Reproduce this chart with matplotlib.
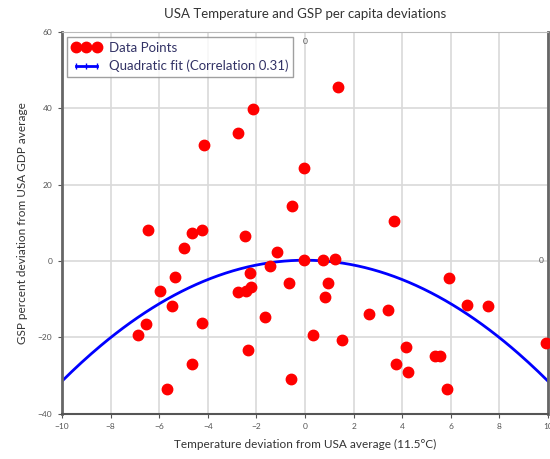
import numpy as np
import matplotlib
matplotlib.use('Agg')
import matplotlib.pyplot as plt
from matplotlib.lines import Line2D

plt.rcParams['font.family'] = ['Lato', 'DejaVu Sans']

# temperature deviation (C) and GSP per capita deviation (%) per state
temp_dev = [1.37, -2.14, -2.74, -4.16, -0.03, -0.55, 3.65, -6.47, -4.25, -4.66,
            -2.45, -4.97, -1.14, -0.06, 0.74, 1.25, -1.44, -2.25, -5.36, 5.94,
            -0.65, 0.96, -2.24, -2.43, -2.75, -5.95, 0.84, -5.46, 6.65, 7.53,
            3.43, 2.63, -1.64, -4.25, -6.55, 0.33, -6.86, 1.54, 9.9, 4.15,
            -2.35, 5.34, 5.54, -4.66, 3.75, 4.24, -0.56, -5.68, 5.86]
gsp_dev = [45.7, 39.9, 33.5, 30.4, 24.3, 14.5, 10.6, 8.0, 8.2, 7.3,
           6.6, 3.5, 2.3, 0.2, 0.3, 0.5, -1.3, -3.2, -4.3, -4.5,
           -5.7, -5.8, -6.8, -7.8, -8.0, -7.8, -9.4, -11.7, -11.5, -11.8,
           -12.9, -13.8, -14.6, -16.2, -16.5, -19.3, -19.5, -20.7, -21.6, -22.5,
           -23.4, -24.9, -24.9, -27.0, -27.0, -29.1, -30.8, -33.5, -33.5]

# quadratic fit coefficients (c2, c1, c0)
fit_coef = [-0.317, 0.0, 0.2]
correlation = 0.31

x_ticks = [-10, -8, -6, -4, -2, 0, 2, 4, 6, 8, 10]
y_ticks = [-40, -20, 0, 20, 40, 60]

fig = plt.figure(figsize=(5.5, 4.59), dpi=100)
ax = fig.add_axes([0.1127, 0.0989, 0.8837, 0.8313])

xs = np.linspace(-10, 10, 200)
ax.plot(xs, np.polyval(fit_coef, xs), color='#0000ff', lw=2, zorder=2)
ax.plot(temp_dev, gsp_dev, 'o', color='#ff0000', ms=7.5, mec='#ff0000', zorder=3, clip_on=False)

ax.set_xlim(-10, 10)
ax.set_ylim(-40, 60)
ax.set_xticks(x_ticks)
ax.set_yticks(y_ticks)
ax.grid(True, color='#d9d9d9', lw=1.2)
ax.set_axisbelow(True)
ax.tick_params(labelsize=6, colors='#555555', length=3, pad=4)
for s in ['left', 'right']:
    ax.spines[s].set_linewidth(2)
    ax.spines[s].set_color('#666666')
ax.spines['bottom'].set_linewidth(1.5)
ax.spines['bottom'].set_color('#555555')
ax.spines['top'].set_color('#bbbbbb')

# stray zero labels near the axes centre lines
ax.text(0, 58.5, '0', fontsize=6, color='#555555', ha='center', va='top')
ax.text(9.7, 0, '0', fontsize=6, color='#555555', ha='center', va='center')

ax.set_title('USA Temperature and GSP per capita deviations', fontsize=9.5, color='#333333', pad=10)
ax.set_xlabel('Temperature deviation from USA average (11.5°C)', fontsize=8.5, color='#333333', labelpad=6)
ax.set_ylabel('GSP percent deviation from USA GDP average', fontsize=8.5, color='#333333', labelpad=7)

handles = [Line2D([], [], ls='', marker='o', color='#ff0000', ms=7.5),
           Line2D([], [], color='#0000ff', lw=2, marker='|', ms=5)]
leg = ax.legend(handles, ['Data Points', 'Quadratic fit (Correlation %.2f)' % correlation],
                loc='upper left', numpoints=3, fontsize=9.5, frameon=True, fancybox=False,
                borderaxespad=0.4, handlelength=2.2, labelspacing=0.45, borderpad=0.35,
                handletextpad=0.6)
leg.get_frame().set_edgecolor('#888888')
leg.get_frame().set_linewidth(1)
for t in leg.get_texts():
    t.set_color('#333366')

fig.savefig('out.png', dpi=100)
